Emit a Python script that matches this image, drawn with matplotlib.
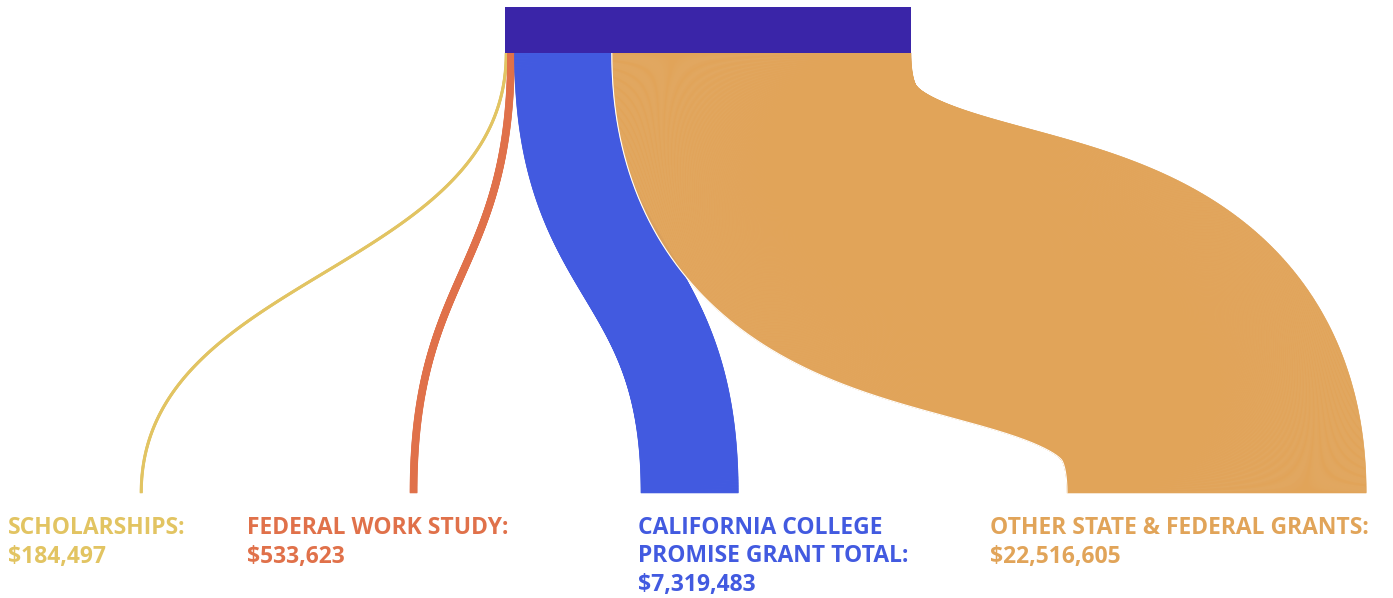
import numpy as np
import matplotlib.pyplot as plt
from matplotlib.patches import Rectangle
from matplotlib.collections import PolyCollection

# data
names = [['SCHOLARSHIPS:'], ['FEDERAL WORK STUDY:'],
         ['CALIFORNIA COLLEGE', 'PROMISE GRANT TOTAL:'],
         ['OTHER STATE & FEDERAL GRANTS:']]
values = [184497, 533623, 7319483, 22516605]
amounts = ['$184,497', '$533,623', '$7,319,483', '$22,516,605']
colors = ['#E2C462', '#E0714A', '#425AE0', '#E1A459']
src_color = '#3A25A8'

W, H = 1393, 598
fig = plt.figure(figsize=(W / 100, H / 100), dpi=100)
ax = fig.add_axes([0, 0, 1, 1])
ax.set_xlim(0, W)
ax.set_ylim(H, 0)
ax.axis('off')

# layout in pixel coords
bar_x0, bar_x1, bar_y0, bar_y1 = 505, 911, 7, 53
bottom_y = 493
scale = (bar_x1 - bar_x0) / sum(values)
target_left = [140, 410, 641, 1067]
label_x = [8, 247, 638, 990]
curv = [0.5, 0.5, 0.52, 0.72]  # control point pull per flow (big one has a flat middle)


def bezier(p0, p1, p2, p3, t):
    t = t[:, None]
    return ((1 - t) ** 3) * p0 + 3 * (1 - t) ** 2 * t * p1 + 3 * (1 - t) * t ** 2 * p2 + t ** 3 * p3


def dbezier(p0, p1, p2, p3, t):
    t = t[:, None]
    return 3 * (1 - t) ** 2 * (p1 - p0) + 6 * (1 - t) * t * (p2 - p1) + 3 * t ** 2 * (p3 - p2)


t = np.linspace(0, 1, 1200)
x_cursor = bar_x0
for v, tl, c, cv in zip(values, target_left, colors, curv):
    w = v * scale
    sx = x_cursor + w / 2
    tx = tl + w / 2
    x_cursor += w
    a = cv * (bottom_y - bar_y1)
    p0 = np.array([sx, bar_y1]); p1 = np.array([sx, bar_y1 + a])
    p2 = np.array([tx, bottom_y - a]); p3 = np.array([tx, bottom_y])
    pts = bezier(p0, p1, p2, p3, t)
    d = dbezier(p0, p1, p2, p3, t)
    d[0] = [0, 1]; d[-1] = [0, 1]
    n = np.stack([-d[:, 1], d[:, 0]], axis=1)
    n /= np.linalg.norm(n, axis=1)[:, None]
    left = pts + n * w / 2
    right = pts - n * w / 2
    # sweep the stroke as small quads so that overlapping parts fill like a real stroke
    quads = [np.array([left[i], left[i + 1], right[i + 1], right[i]]) for i in range(len(t) - 1)]
    pc = PolyCollection(quads, facecolors=c, edgecolors=c, linewidths=0.4, zorder=2)
    ax.add_collection(pc)
    if w > 200:
        # thin white seam where the big flow overlaps its neighbour
        ax.plot(left[:, 0], left[:, 1], color='white', lw=0.8, zorder=2.5)

ax.add_patch(Rectangle((bar_x0, bar_y0), bar_x1 - bar_x0, bar_y1 - bar_y0,
                       facecolor=src_color, edgecolor='none', zorder=3))

for name, amt, lx, c in zip(names, amounts, label_x, colors):
    lines = name + [amt]
    for i, s in enumerate(lines):
        ax.text(lx, 534 + 28.5 * i, s, color=c, fontsize=16.5, fontweight='bold',
                family='Open Sans', va='baseline', ha='left')

fig.savefig('out.png', dpi=100)
